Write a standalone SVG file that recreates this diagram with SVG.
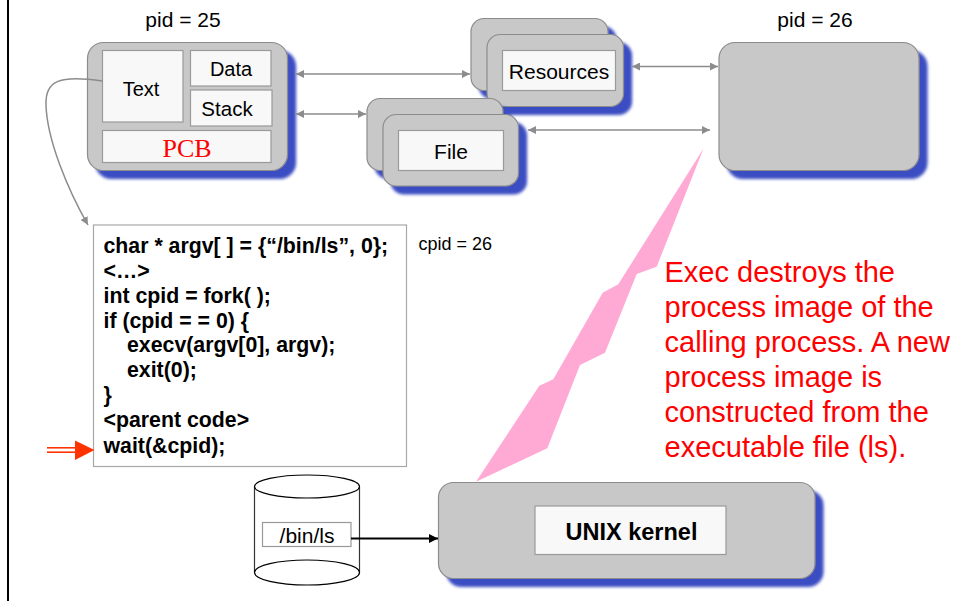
<svg xmlns="http://www.w3.org/2000/svg" width="959" height="601" viewBox="0 0 959 601">
  <style>
    .proc { fill: #c8c8c8; stroke: #8c8c8c; stroke-width: 1.2; }
    .cell { fill: #f8f8f8; stroke: #9a9a9a; stroke-width: 1.2; }
    .lbl { font-family: "Liberation Sans", Arial, sans-serif; fill: #000; text-anchor: middle; }
    .code { font-family: "Liberation Sans", Arial, sans-serif; font-weight: bold; font-size: 21.3px; fill: #000; }
    .note { font-family: "Liberation Sans", Arial, sans-serif; font-size: 29px; fill: #ff0000; }
    .link { stroke: #8c8c8c; stroke-width: 1.5; fill: none; }
  </style>
  <defs>
    <filter id="shadow" x="-10%" y="-10%" width="130%" height="140%">
      <feOffset in="SourceAlpha" dx="7.5" dy="7.5" result="off"/>
      <feGaussianBlur in="off" stdDeviation="1.6" result="blur"/>
      <feFlood flood-color="#3b4dc2"/>
      <feComposite in2="blur" operator="in" result="shade"/>
      <feMerge>
        <feMergeNode in="shade"/>
        <feMergeNode in="SourceGraphic"/>
      </feMerge>
    </filter>
    <marker id="gray-head" viewBox="0 0 10 10" refX="10" refY="5" markerWidth="8" markerHeight="8" markerUnits="userSpaceOnUse" orient="auto-start-reverse">
      <path d="M0,0 L10,5 L0,10 z" fill="#8c8c8c"/>
    </marker>
    <marker id="black-head" viewBox="0 0 10 10" refX="10" refY="5" markerWidth="10" markerHeight="9" markerUnits="userSpaceOnUse" orient="auto">
      <path d="M0,0 L10,5 L0,10 z" fill="#000"/>
    </marker>
  </defs>

  <rect width="959" height="601" fill="#fff"/>
  <!-- left margin rule -->
  <line x1="8" y1="0" x2="8" y2="601" stroke="#000" stroke-width="2"/>

  <!-- parent process (pid 25) -->
  <g id="parent-process">
    <text class="lbl" x="183" y="26.5" font-size="21">pid = 25</text>
    <rect class="proc" x="87.5" y="42.5" width="200" height="128" rx="16" filter="url(#shadow)"/>
    <rect class="cell" x="102.5" y="50.5" width="80.5" height="71.5"/>
    <rect class="cell" x="190.5" y="50.5" width="80.5" height="35.5"/>
    <rect class="cell" x="190.5" y="90" width="81.5" height="36"/>
    <rect class="cell" x="102.5" y="130.5" width="168.5" height="32"/>
    <text class="lbl" x="141" y="96" font-size="20">Text</text>
    <text class="lbl" x="231" y="76" font-size="20">Data</text>
    <text class="lbl" x="227" y="115.5" font-size="20.5">Stack</text>
    <text x="187" y="157" font-family="'Liberation Serif', 'Times New Roman', serif" font-size="26" fill="#ff0000" text-anchor="middle">PCB</text>
  </g>

  <!-- shared resources -->
  <g id="resources">
    <rect class="proc" x="471" y="18.5" width="137" height="72" rx="13" filter="url(#shadow)"/>
    <rect class="proc" x="487" y="34.5" width="136.5" height="72" rx="13" filter="url(#shadow)"/>
    <rect class="cell" x="502.5" y="50.5" width="113" height="40"/>
    <text class="lbl" x="559" y="78.5" font-size="21">Resources</text>
  </g>

  <!-- open file -->
  <g id="file">
    <rect class="proc" x="367" y="98.5" width="136" height="72" rx="13" filter="url(#shadow)"/>
    <rect class="proc" x="383" y="114.5" width="135.5" height="71.5" rx="13" filter="url(#shadow)"/>
    <rect class="cell" x="398.5" y="130.5" width="105" height="40"/>
    <text class="lbl" x="451" y="159" font-size="21">File</text>
  </g>

  <!-- child process (pid 26) -->
  <g id="child-process">
    <text class="lbl" x="815" y="26.5" font-size="21">pid = 26</text>
    <rect class="proc" x="719" y="42.5" width="200" height="128" rx="16" filter="url(#shadow)"/>
  </g>

  <!-- program source -->
  <g id="code">
    <rect x="93.5" y="225" width="313" height="241.5" fill="#fff" stroke="#a8a8a8" stroke-width="1.2"/>
    <text class="code" x="103.5" y="252.5">char * argv[ ] = {“/bin/ls”, 0};</text>
    <text class="code" x="103.5" y="277.5">&lt;…&gt;</text>
    <text class="code" x="103.5" y="302.5">int cpid = fork( );</text>
    <text class="code" x="103.5" y="327.5">if (cpid = = 0) {</text>
    <text class="code" x="127" y="352">execv(argv[0], argv);</text>
    <text class="code" x="127" y="377">exit(0);</text>
    <text class="code" x="103.5" y="402">}</text>
    <text class="code" x="103.5" y="427">&lt;parent code&gt;</text>
    <text class="code" x="103.5" y="452.5">wait(&amp;cpid);</text>
  </g>

  <g id="cpid-label">
    <text x="418.5" y="250" font-family="'Liberation Sans', Arial, sans-serif" font-size="18" fill="#000">cpid = 26</text>
  </g>

  <!-- executable on disk -->
  <g id="disk">
    <path d="M254.5,486.5 V572.5 M359.5,486.5 V572.5" stroke="#333" stroke-width="1.2" fill="none"/>
    <ellipse cx="307" cy="486.5" rx="52.5" ry="11.5" fill="#fff" stroke="#000" stroke-width="1.2"/>
    <ellipse cx="307" cy="572.5" rx="52.5" ry="12.5" fill="#fff" stroke="#000" stroke-width="1.2"/>
    <rect x="262.5" y="522.5" width="88.5" height="24" fill="#fff" stroke="#999" stroke-width="1.2"/>
    <text class="lbl" x="307" y="542.5" font-size="21">/bin/ls</text>
  </g>

  <!-- kernel -->
  <g id="kernel">
    <rect class="proc" x="438.5" y="482.5" width="376.5" height="96" rx="15" filter="url(#shadow)"/>
    <rect class="cell" x="535" y="506" width="191" height="48.5"/>
    <text class="lbl" x="631.5" y="540" font-size="23.5" font-weight="bold">UNIX kernel</text>
  </g>

  <!-- exec bolt -->
  <g id="exec-bolt">
    <polygon points="703.5,148.5 656.7,266.7 636.7,274 605,352.7 580,365 547.3,448.3 476,481.7 539.3,385.7 553.3,379.3 602.7,292.7 618.3,284.3" fill="#ffaad4"/>
  </g>

  <!-- explanatory note -->
  <g id="note">
    <text class="note" x="664.5" y="282">Exec destroys the</text>
    <text class="note" x="664.5" y="317">process image of the</text>
    <text class="note" x="664.5" y="352">calling process. A new</text>
    <text class="note" x="664.5" y="387">process image is</text>
    <text class="note" x="664.5" y="422">constructed from the</text>
    <text class="note" x="664.5" y="457">executable file (ls).</text>
  </g>

  <!-- connectors -->
  <g id="connectors">
    <line class="link" x1="296" y1="74" x2="470" y2="74" marker-start="url(#gray-head)" marker-end="url(#gray-head)"/>
    <line class="link" x1="296" y1="114" x2="366" y2="114" marker-start="url(#gray-head)" marker-end="url(#gray-head)"/>
    <line class="link" x1="632" y1="66.5" x2="718" y2="66.5" marker-start="url(#gray-head)" marker-end="url(#gray-head)"/>
    <line class="link" x1="528" y1="130" x2="710" y2="130" marker-start="url(#gray-head)" marker-end="url(#gray-head)"/>
    <path class="link" d="M102.5,81 C60,75 45,80 46,105 C47,140 68,190 88,225" marker-end="url(#gray-head)"/>
    <line x1="351" y1="538.5" x2="438" y2="538.5" stroke="#000" stroke-width="1.8" marker-end="url(#black-head)"/>
    <!-- pointer to the current line -->
    <g id="current-line">
      <line x1="47" y1="447.8" x2="77" y2="447.8" stroke="#ff3300" stroke-width="1.6"/>
      <line x1="47" y1="452.2" x2="77" y2="452.2" stroke="#ff3300" stroke-width="1.6"/>
      <polygon points="75,440.5 94.5,450 75,460" fill="#ff3300"/>
    </g>
  </g>
</svg>
